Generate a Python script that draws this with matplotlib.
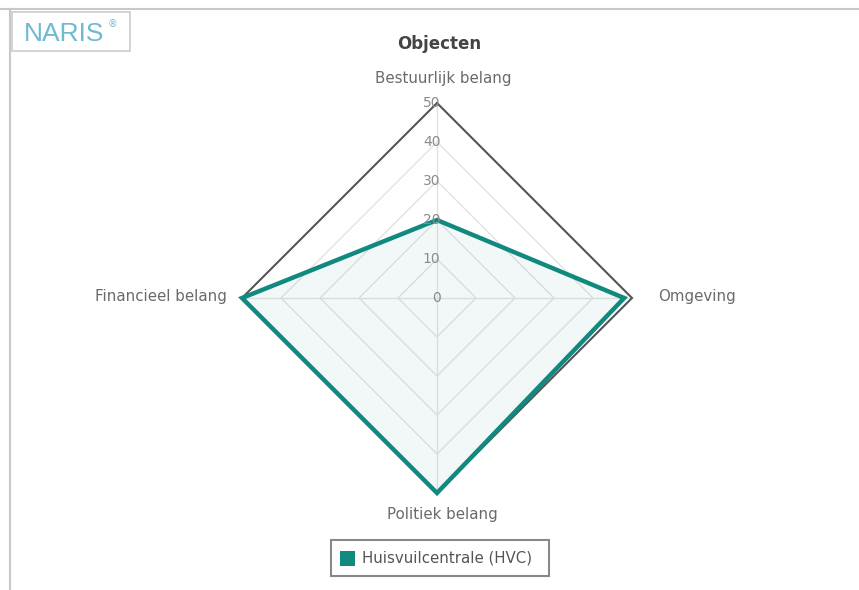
import numpy as np
import matplotlib
matplotlib.use("Agg")
import matplotlib.pyplot as plt
from matplotlib.patches import Rectangle, Polygon

# ---- data ----
categories = ["Bestuurlijk belang", "Omgeving", "Politiek belang", "Financieel belang"]
values = [20, 48, 50, 50]
series_name = "Huisvuilcentrale (HVC)"
r_ticks = [0, 10, 20, 30, 40, 50]
r_max = 50
title = "Objecten"

W, H = 859, 590
fig = plt.figure(figsize=(W / 100, H / 100), dpi=100)
fig.patch.set_facecolor("white")

# axes spanning the figure; data units = radar values
cx, cy = 437, 590 - 298   # centre in pixels (from bottom)
R = 195.0                 # pixels for r_max
s = r_max / R
ax = fig.add_axes([0, 0, 1, 1])
ax.set_xlim(-cx * s, (W - cx) * s)
ax.set_ylim(-cy * s, (H - cy) * s)
ax.axis("off")

n = len(categories)
angles = np.pi / 2 - np.arange(n) * 2 * np.pi / n  # clockwise from top


def xy(vals):
    vals = np.asarray(vals, dtype=float)
    return vals * np.cos(angles), vals * np.sin(angles)


teal = "#12897f"
grid_c = "#e2e2e2"
txt_c = "#6a6a6a"

# grid polygons
for t in r_ticks[1:-1]:
    gx, gy = xy([t] * n)
    ax.add_patch(Polygon(np.column_stack([gx, gy]), closed=True, fill=False,
                         edgecolor=grid_c, lw=1, zorder=1))
# spokes
for a in angles:
    ax.plot([0, r_max * np.cos(a)], [0, r_max * np.sin(a)], color=grid_c, lw=1, zorder=1)

# outer frame
ox, oy = xy([r_max] * n)
ax.add_patch(Polygon(np.column_stack([ox, oy]), closed=True, fill=False,
                     edgecolor="#555555", lw=1.5, zorder=2))

# series
vx, vy = xy(values)
ax.add_patch(Polygon(np.column_stack([vx, vy]), closed=True, facecolor=teal,
                     alpha=0.05, edgecolor="none", zorder=3))
ax.add_patch(Polygon(np.column_stack([vx, vy]), closed=True, fill=False,
                     edgecolor=teal, lw=3.2, joinstyle="miter", zorder=4))

# radial tick labels
for t in r_ticks:
    ax.text(0.9, t, str(t), ha="right", va="center", fontsize=10, color="#8a8a8a", zorder=5)

# category labels
lab_off = [(1.7, 6.4, "center", "center"), (6.7, 0.5, "left", "center"),
           (1.3, -5.4, "center", "center"), (-4.0, 0.5, "right", "center")]
for c, x0, y0, (dx, dy, ha, va) in zip(categories, ox, oy, lab_off):
    ax.text(x0 + dx, y0 + dy, c, ha=ha, va=va, fontsize=10.8, color=txt_c)

# title
fig.text(439 / W, 1 - 44 / H, title, ha="center", va="center", fontsize=12,
         fontweight="bold", color="#444444")

# legend box
lx0, ly0, lx1, ly1 = 331, 540, 549, 576
fig.patches.append(Rectangle((lx0 / W, 1 - ly1 / H), (lx1 - lx0) / W, (ly1 - ly0) / H,
                             transform=fig.transFigure, fill=False, edgecolor="#888888", lw=1.5))
fig.patches.append(Rectangle((340 / W, 1 - 566 / H), 15 / W, 15 / H,
                             transform=fig.transFigure, facecolor=teal, edgecolor="none"))
fig.text(362 / W, 1 - 558 / H, series_name, ha="left", va="center", fontsize=10.8, color="#555555")

# page borders
fig.add_artist(plt.Line2D([0, 1], [1 - 8.5 / H, 1 - 8.5 / H], transform=fig.transFigure,
                          color="#c8c8c8", lw=1.5))
fig.add_artist(plt.Line2D([9.5 / W, 9.5 / W], [0, 1 - 8.5 / H], transform=fig.transFigure,
                          color="#c8c8c8", lw=1.5))

# NARIS logo
fig.patches.append(Rectangle((12 / W, 1 - 51 / H), 118 / W, 39 / H,
                             transform=fig.transFigure, facecolor="white", edgecolor="#cccccc", lw=1.2))
fig.text(24 / W, 1 - 34 / H, "NARIS", ha="left", va="center", fontsize=19,
         family="Liberation Sans", color="#6fb9d2")
fig.text(108 / W, 1 - 24 / H, "®", ha="left", va="center", fontsize=7, color="#6fb9d2")

fig.savefig("out.png", dpi=100, facecolor="white")
